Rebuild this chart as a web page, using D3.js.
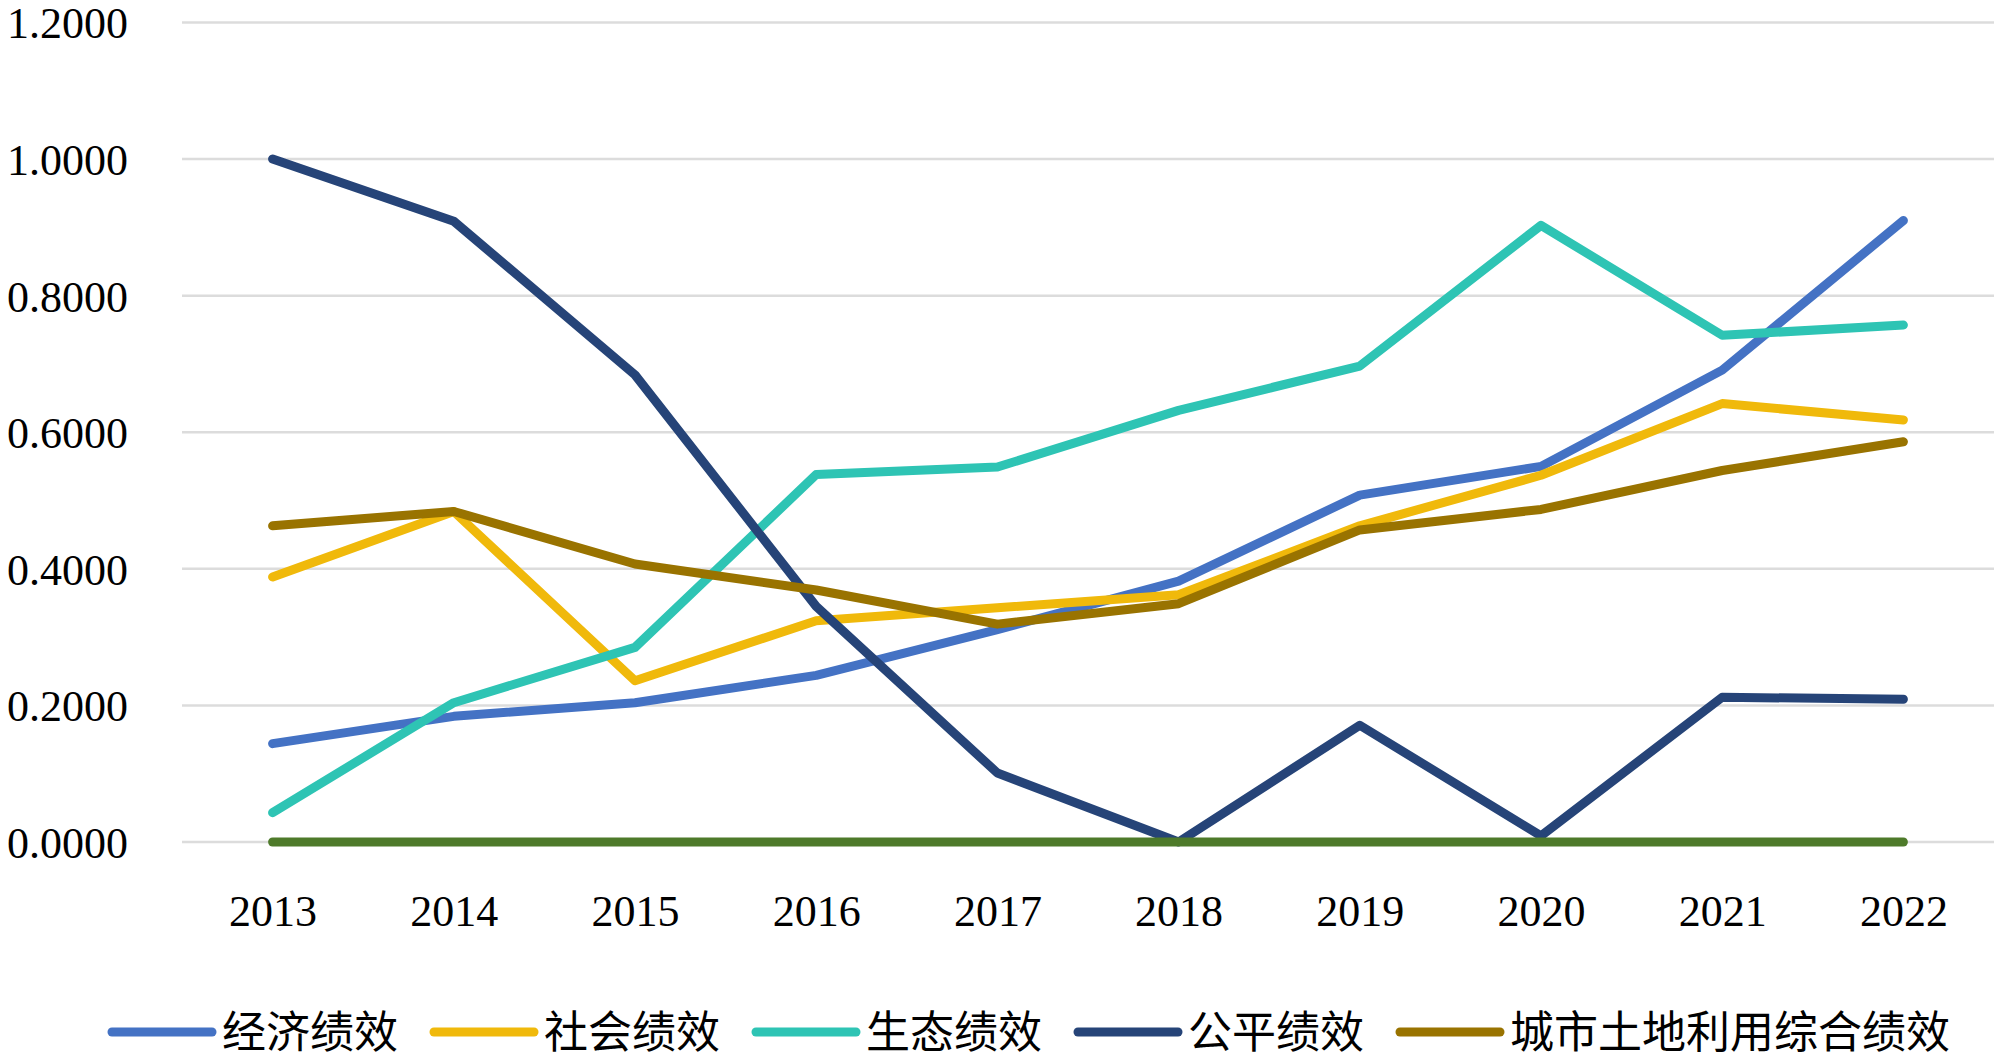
<!DOCTYPE html>
<html>
<head>
<meta charset="utf-8">
<script src="https://cdn.jsdelivr.net/npm/d3@7"></script>
<style>
  html, body { margin: 0; padding: 0; background: #fff; }
  svg { display: block; }
</style>
</head>
<body>
<div id="chart"></div>
<script>
// data
var years = ['2013','2014','2015','2016','2017','2018','2019','2020','2021','2022'];
var seriesNames = ['经济绩效','社会绩效','生态绩效','公平绩效','城市土地利用综合绩效'];
var economic = [0.144, 0.184, 0.204, 0.244, 0.311, 0.382, 0.508, 0.550, 0.691, 0.910];
var social   = [0.388, 0.484, 0.236, 0.324, 0.343, 0.362, 0.463, 0.537, 0.642, 0.618];
var ecology  = [0.043, 0.204, 0.285, 0.538, 0.549, 0.632, 0.697, 0.903, 0.742, 0.757];
var equity   = [1.000, 0.909, 0.684, 0.345, 0.101, 0.000, 0.171, 0.009, 0.212, 0.209];
var overall  = [0.463, 0.484, 0.407, 0.369, 0.319, 0.349, 0.457, 0.487, 0.544, 0.586];
var baseline = [0, 0, 0, 0, 0, 0, 0, 0, 0, 0];   // unlabelled green series along zero
var yTicks = [0, 0.2, 0.4, 0.6, 0.8, 1.0, 1.2];

var colors = ['#4472C4', '#F0B90B', '#2EC4B4', '#264478', '#997300'];
var baseColor = '#4E7A2A';

var W = 2000, H = 1063;
var svg = d3.select('#chart').append('svg').attr('width', W).attr('height', H);

var x = d3.scalePoint().domain(years).range([182, 1994]).padding(0.5);
var y = d3.scaleLinear().domain([0, 1.2]).range([842, 22.5]);

var serif = '"Liberation Serif", "Times New Roman", serif';
var cjk = '"Noto Sans CJK SC", sans-serif';

// grid lines
svg.append('g').selectAll('line').data(yTicks).join('line')
    .attr('x1', 182).attr('x2', 1994)
    .attr('y1', function(d){ return y(d); }).attr('y2', function(d){ return y(d); })
    .attr('stroke', '#dcdcdc').attr('stroke-width', 2.5);

// y axis labels
var yAxis = d3.axisLeft(y).tickValues(yTicks).tickFormat(d3.format('.4f')).tickSize(0).tickPadding(0);
svg.append('g').attr('transform', 'translate(128,0)').call(yAxis)
    .call(function(g){ g.select('.domain').remove(); })
    .selectAll('text')
    .attr('font-family', serif).attr('font-size', 44).attr('fill', '#000')
    .attr('dy', '0.35em');

// x axis labels
var xAxis = d3.axisBottom(x).tickSize(0).tickPadding(0);
svg.append('g').attr('transform', 'translate(0,911)').call(xAxis)
    .call(function(g){ g.select('.domain').remove(); })
    .selectAll('text')
    .attr('font-family', serif).attr('font-size', 44).attr('fill', '#000')
    .attr('dy', '0.35em');

// lines
var line = d3.line()
    .x(function(d, i){ return x(years[i]); })
    .y(function(d){ return y(d); });

var allSeries = [economic, social, ecology, equity, overall];
var lineG = svg.append('g').attr('fill', 'none')
    .attr('stroke-width', 9).attr('stroke-linecap', 'round').attr('stroke-linejoin', 'round');

allSeries.forEach(function(s, i){
    lineG.append('path').attr('d', line(s)).attr('stroke', colors[i]);
});
lineG.append('path').attr('d', line(baseline)).attr('stroke', baseColor);

// legend
var legend = svg.append('g');
var lx = 112, ly = 1032;
seriesNames.forEach(function(name, i){
    var item = legend.append('g').attr('transform', 'translate(' + lx + ',' + ly + ')');
    item.append('line').attr('x1', 0).attr('x2', 100).attr('y1', 0).attr('y2', 0)
        .attr('stroke', colors[i]).attr('stroke-width', 9).attr('stroke-linecap', 'round');
    var t = item.append('text').attr('x', 110).attr('y', 0).attr('dy', '0.36em')
        .attr('font-family', cjk).attr('font-size', 44).attr('fill', '#000')
        .text(name);
    lx += 110 + t.node().getComputedTextLength() + 36;
});
</script>
</body>
</html>
